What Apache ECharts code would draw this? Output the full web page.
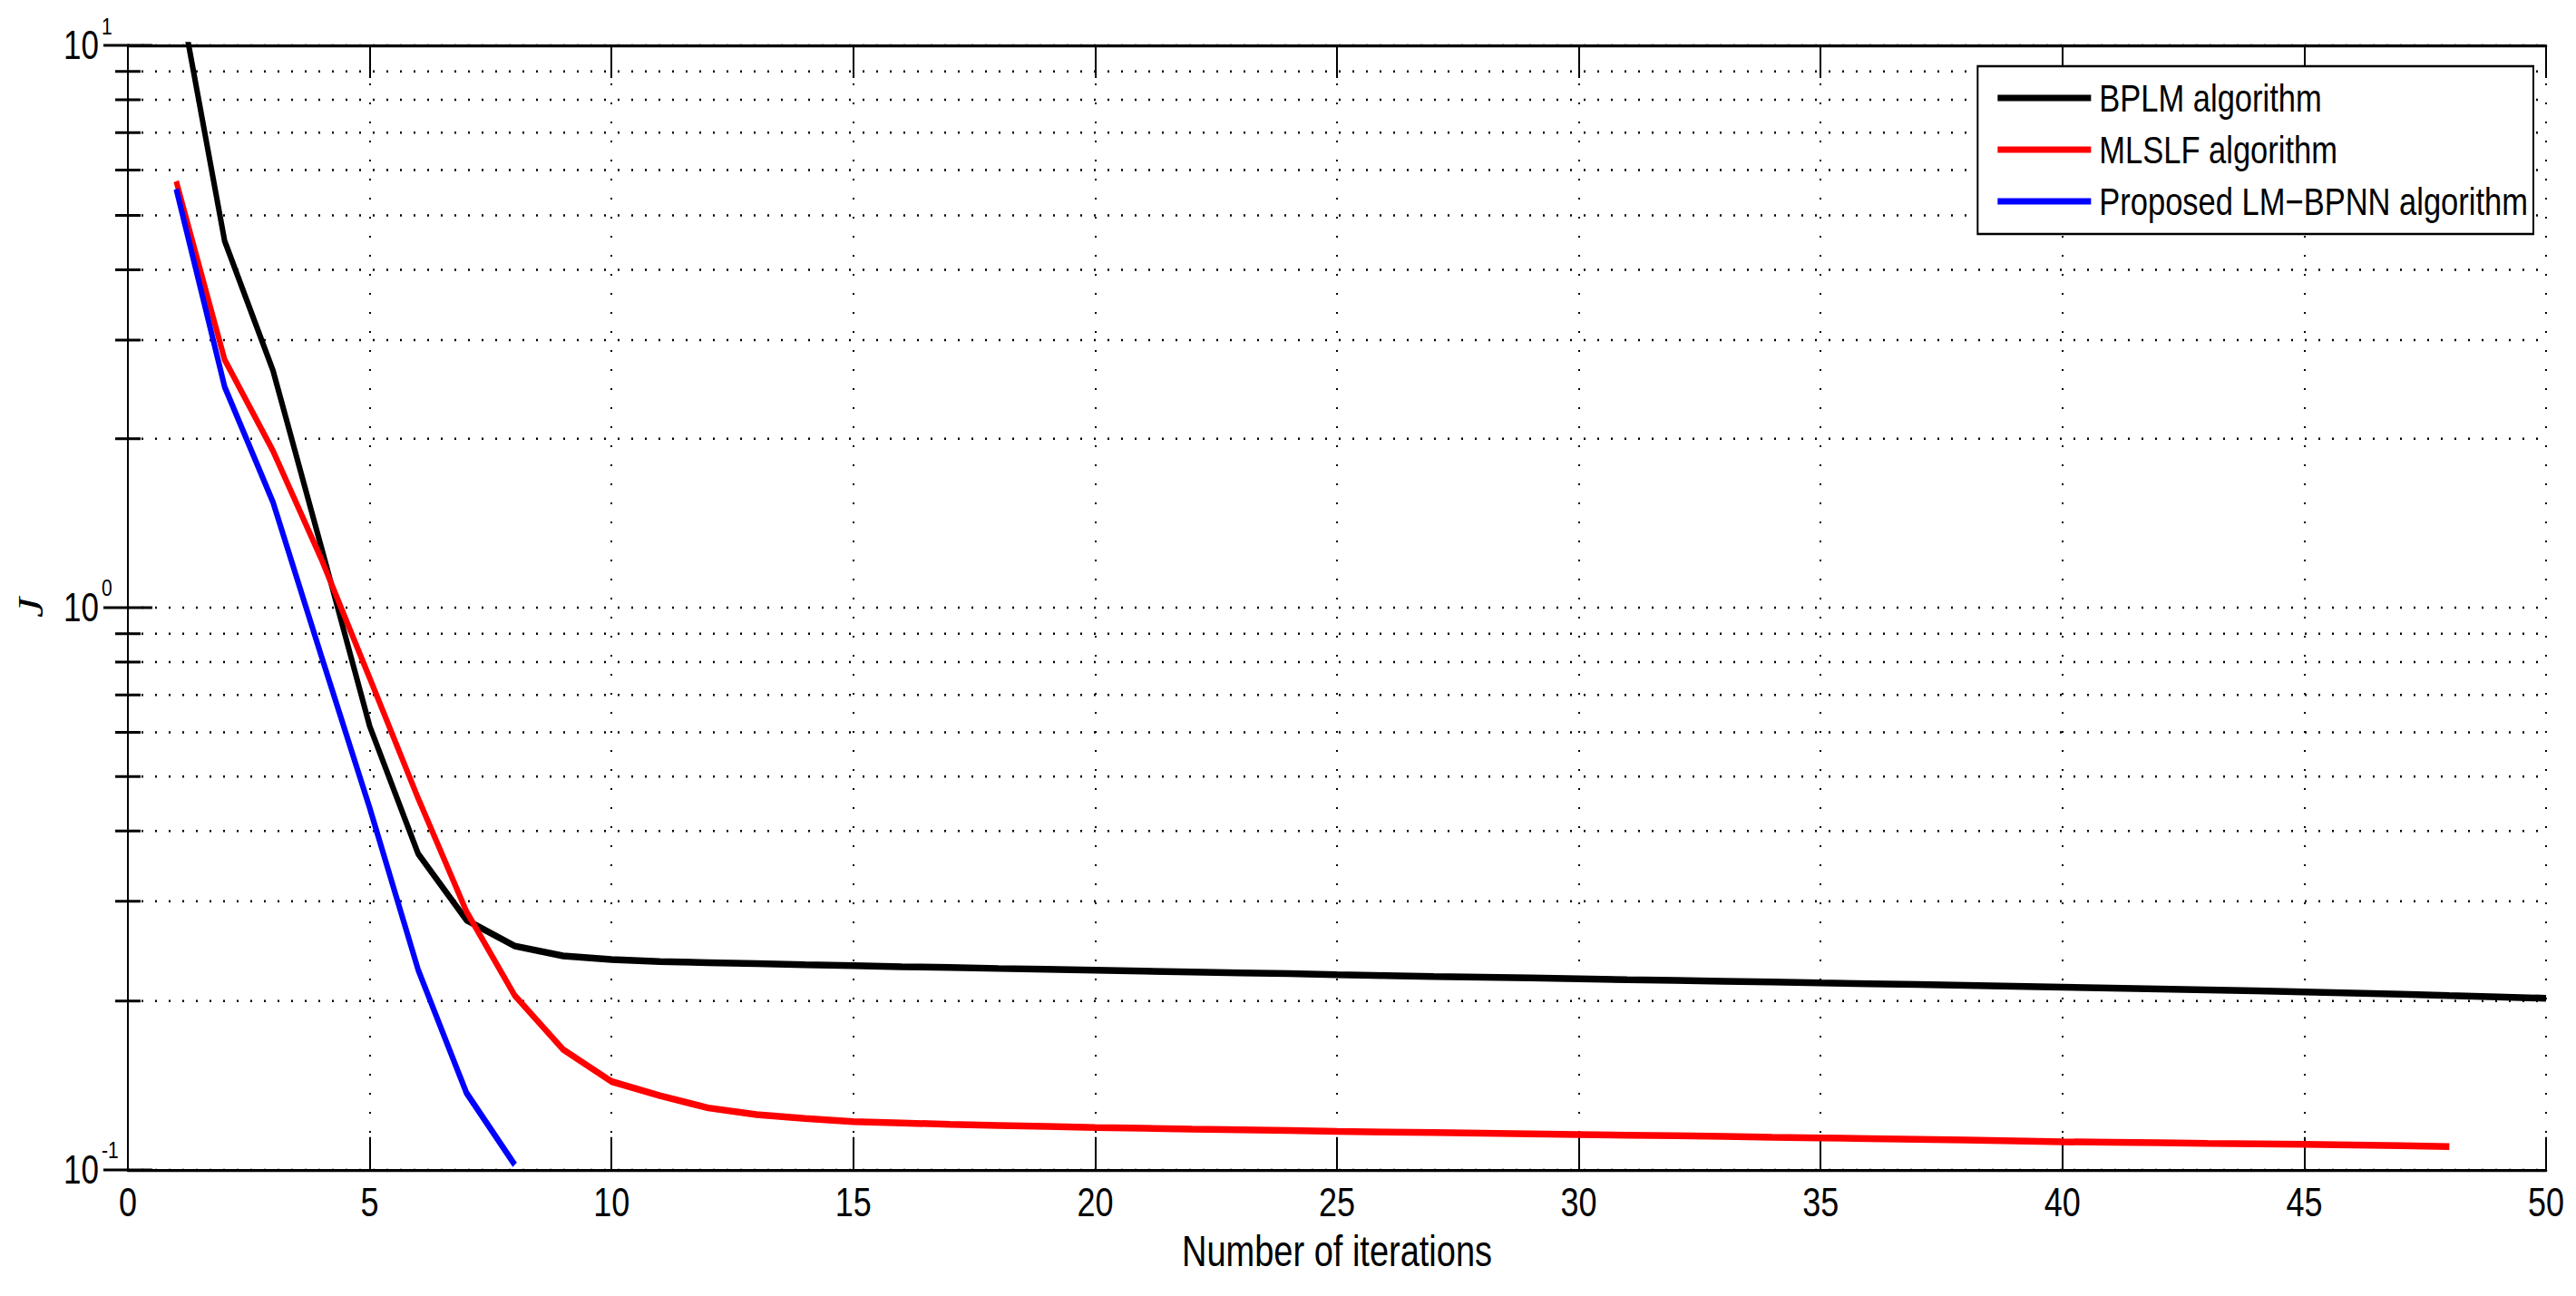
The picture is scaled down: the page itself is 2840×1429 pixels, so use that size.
<!DOCTYPE html>
<html>
<head>
<meta charset="utf-8">
<script src="https://cdn.jsdelivr.net/npm/echarts@6/dist/echarts.min.js"></script>
<style>
  html, body { margin: 0; padding: 0; background: #fff; width: 2840px; height: 1429px; }
  #frame { position: relative; width: 2840px; height: 1429px; }
  /* the original figure is stretched vertically (tall, narrow glyphs),
     so the chart is laid out at 1/1.25 height and scaled back up */
  #chart {
    position: absolute;
    left: 0;
    top: 0;
    width: 2840px;
    height: 1143.2px;
    transform: scaleY(1.25);
    transform-origin: 0 0;
  }
</style>
</head>
<body>
<div id="frame"><div id="chart"></div></div>
<script>
// iteration index (x axis)
const iterations = [1, 2, 3, 4, 5, 6, 7, 8, 9, 10, 11, 12, 13, 14, 15, 16, 17, 18, 19, 20,
  21, 22, 23, 24, 25, 26, 27, 28, 29, 30, 31, 32, 33, 34, 35, 36, 37, 38, 39, 40,
  41, 42, 43, 44, 45, 46, 47, 48, 49, 50];

// J values
const bplm = [13.2, 4.49, 2.64, 1.28, 0.615, 0.365, 0.278, 0.25, 0.24, 0.2365,
  0.2345, 0.2335, 0.2325, 0.2315, 0.2306, 0.2297, 0.2289, 0.228, 0.2272, 0.2264,
  0.2256, 0.2248, 0.224, 0.2232, 0.2222, 0.2215, 0.2207, 0.22, 0.2193, 0.2186,
  0.2178, 0.2171, 0.2164, 0.2157, 0.2149, 0.2142, 0.2135, 0.2128, 0.212, 0.2112,
  0.2104, 0.2096, 0.2088, 0.208, 0.2071, 0.2061, 0.2051, 0.204, 0.203, 0.2018];

const mlslf = [5.73, 2.76, 1.9, 1.22, 0.749, 0.458, 0.288, 0.204, 0.1636, 0.1435,
  0.1354, 0.1288, 0.1253, 0.1234, 0.1218, 0.1211, 0.1204, 0.1199, 0.1194, 0.1189,
  0.1185, 0.1181, 0.1178, 0.1174, 0.117, 0.1167, 0.1164, 0.1161, 0.1158, 0.1155,
  0.1152, 0.1149, 0.1146, 0.1142, 0.1139, 0.1136, 0.1133, 0.1129, 0.1125, 0.1121,
  0.1119, 0.1117, 0.1114, 0.1112, 0.111, 0.1107, 0.1103, 0.1099];

const lmbpnn = [5.55, 2.47, 1.54, 0.82, 0.44, 0.227, 0.137, 0.102];

const seriesNames = ["BPLM algorithm", "MLSLF algorithm", "Proposed LM\u2212BPNN algorithm"];
const seriesColors = ["#000000", "#ff0000", "#0000ff"];

const xRange = [0, 50];
const xStep = 5;
const yRange = [0.1, 10];

const FONT = "'Liberation Sans', Arial, Helvetica, sans-serif";

function toPairs(values) {
  return values.map((v, i) => [iterations[i], v]);
}

function dotted(width, dash, gap) {
  return { color: "#000", width: width, type: [dash, gap] };
}

const chart = echarts.init(document.getElementById("chart"), null, { renderer: "svg" });

chart.setOption({
  animation: false,
  backgroundColor: "#fff",
  grid: {
    left: 141,
    right: 33,
    top: 40,
    bottom: 111.2,
    containLabel: false,
    outerBoundsMode: "none",
  },
  legend: {
    orient: "vertical",
    right: 47,
    top: 58.4,
    padding: [10.5, 6, 11.3, 22],
    icon: "rect",
    itemWidth: 103,
    itemHeight: 5.6,
    itemGap: 10.6,
    backgroundColor: "#fff",
    borderColor: "#000",
    borderWidth: 2,
    selectedMode: false,
    textStyle: {
      fontFamily: FONT,
      fontSize: 34.5,
      lineHeight: 32,
      color: "#000",
      padding: [0, 0, 0, 4],
    },
    data: seriesNames,
  },
  xAxis: [
    {
      type: "value",
      min: xRange[0],
      max: xRange[1],
      interval: xStep,
      position: "bottom",
      name: "Number of iterations",
      nameLocation: "middle",
      nameGap: 53,
      nameTextStyle: { fontFamily: FONT, fontSize: 38, color: "#000" },
      axisLine: { lineStyle: { color: "#000", width: 2.6 } },
      axisTick: { inside: true, length: 28.8, lineStyle: { color: "#000", width: 2 } },
      axisLabel: {
        fontFamily: FONT,
        fontSize: 36,
        color: "#000",
        margin: 11,
        showMinLabel: true,
        showMaxLabel: true,
      },
      splitLine: { show: true, lineStyle: dotted(2, 1.6, 15.2) },
    },
    {
      type: "value",
      min: xRange[0],
      max: xRange[1],
      interval: xStep,
      position: "top",
      axisLine: { lineStyle: { color: "#000", width: 2.6 } },
      axisTick: { inside: true, length: 28.8, lineStyle: { color: "#000", width: 2 } },
      axisLabel: { show: false },
      splitLine: { show: false },
    },
  ],
  yAxis: [
    {
      type: "log",
      logBase: 10,
      min: yRange[0],
      max: yRange[1],
      position: "left",
      name: "J",
      nameLocation: "middle",
      nameGap: 87,
      nameTextStyle: {
        fontFamily: "'Liberation Serif', 'Times New Roman', serif",
        fontStyle: "italic",
        fontSize: 40,
        color: "#000",
      },
      axisLine: { lineStyle: { color: "#000", width: 2 } },
      axisTick: { inside: true, length: 27, lineStyle: { color: "#000", width: 2.4 } },
      minorTick: { show: true, splitNumber: 9, length: 14, lineStyle: { color: "#000", width: 2.4 } },
      axisLabel: {
        margin: 71,
        align: "left",
        formatter: (value) => "{b|10}{s|" + Math.round(Math.log10(value)) + "}",
        rich: {
          b: { fontFamily: FONT, fontSize: 35, lineHeight: 56, color: "#000" },
          s: { fontFamily: FONT, fontSize: 21, lineHeight: 21, verticalAlign: "top", color: "#000", padding: [0, 0, 0, 3] },
        },
      },
      splitLine: { show: true, lineStyle: dotted(2, 2, 13) },
      minorSplitLine: { show: true, lineStyle: dotted(2, 2, 13) },
    },
    {
      type: "log",
      logBase: 10,
      min: yRange[0],
      max: yRange[1],
      position: "right",
      axisLine: { lineStyle: { color: "#000", width: 2 } },
      axisTick: { inside: true, length: 27, lineStyle: { color: "#000", width: 2.4 } },
      minorTick: { show: true, splitNumber: 9, length: 14, lineStyle: { color: "#000", width: 2.4 } },
      axisLabel: { show: false },
      splitLine: { show: false },
      minorSplitLine: { show: false },
    },
  ],
  series: [bplm, mlslf, lmbpnn].map((values, i) => ({
    name: seriesNames[i],
    type: "line",
    xAxisIndex: 0,
    yAxisIndex: 0,
    data: toPairs(values),
    symbol: "none",
    clip: true,
    lineStyle: { color: seriesColors[i], width: 6 },
    itemStyle: { color: seriesColors[i] },
  })),
});
</script>
</body>
</html>
